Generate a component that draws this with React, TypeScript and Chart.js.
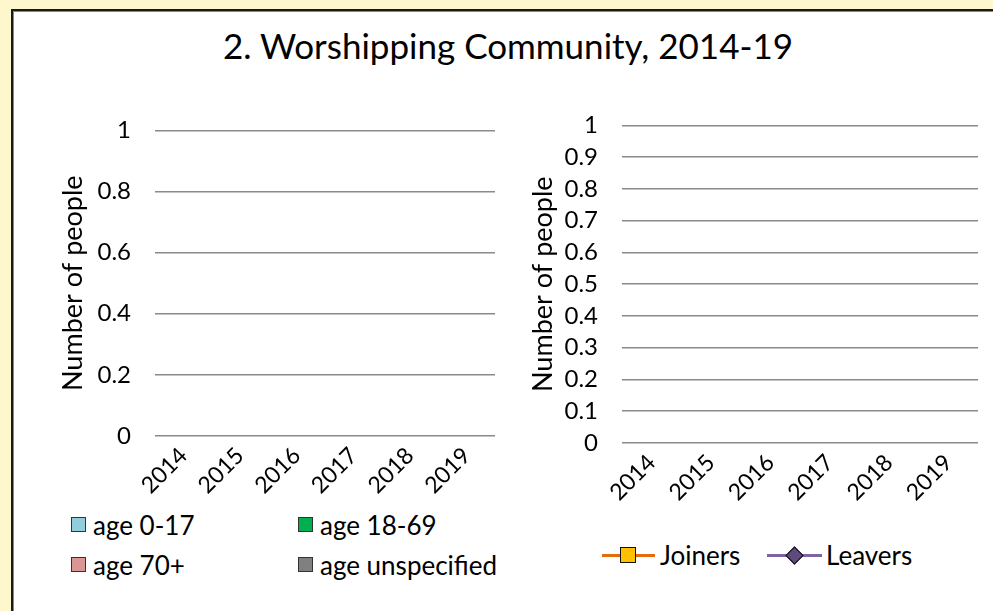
import React, { useEffect, useRef } from "react";
import { Chart, registerables } from "chart.js";

Chart.register(...registerables);

const TITLE = "2. Worshipping Community, 2014-19";
const YEARS = ["2014", "2015", "2016", "2017", "2018", "2019"];
const AGE_0_17: (number | null)[] = [null, null, null, null, null, null];
const AGE_18_69: (number | null)[] = [null, null, null, null, null, null];
const AGE_70_PLUS: (number | null)[] = [null, null, null, null, null, null];
const AGE_UNSPECIFIED: (number | null)[] = [null, null, null, null, null, null];
const JOINERS: (number | null)[] = [null, null, null, null, null, null];
const LEAVERS: (number | null)[] = [null, null, null, null, null, null];
const LEFT_Y_TICKS = ["0", "0.2", "0.4", "0.6", "0.8", "1"];
const RIGHT_Y_TICKS = ["0", "0.1", "0.2", "0.3", "0.4", "0.5", "0.6", "0.7", "0.8", "0.9", "1"];
const Y_TITLE = "Number of people";

const FONT = "Lato, 'Open Sans', sans-serif";
const GRID = "#8a8a8a";
const TICK_SIZE = 24;
const TICK_PAD = 24;
// top offset of chart area from canvas top caused by tick label half-height + padding
const TOP_OVERFLOW = Math.round((TICK_SIZE * 1.2) / 2 + TICK_PAD);

const AGE_LEGEND = [
  { label: "age 0-17", color: "#92CDDC" },
  { label: "age 18-69", color: "#00B050" },
  { label: "age 70+", color: "#DA9694" },
  { label: "age unspecified", color: "#808080" },
];

function yScale(ticks: string[], step: number, width: number) {
  return {
    min: 0,
    max: 1,
    border: { display: false },
    grid: { color: GRID, lineWidth: 1.5, drawTicks: false },
    ticks: {
      stepSize: step,
      autoSkip: false,
      padding: TICK_PAD,
      color: "#000",
      font: { family: FONT, size: TICK_SIZE },
      callback: (_v: any, i: number) => ticks[i],
    },
    title: {
      display: true,
      text: Y_TITLE,
      color: "#000",
      font: { family: FONT, size: 27 },
      padding: { top: 7, bottom: 4 },
    },
    afterFit: (s: any) => {
      s.width = width;
    },
  };
}

function xScale(height: number, offset: boolean) {
  return {
    offset,
    border: { display: false },
    grid: { display: false, drawTicks: false },
    ticks: {
      autoSkip: false,
      maxRotation: 45,
      minRotation: 45,
      padding: 6,
      color: "#000",
      font: { family: FONT, size: 23 },
    },
    afterFit: (s: any) => {
      s.height = height;
    },
  };
}

// Left chart: plot from x=155..495, y=130..436
const L_LEFT = 50;
const L_TOP = 130 - TOP_OVERFLOW;
const L_XH = 60;
const L_W = 495 - L_LEFT;
const L_H = 436 + L_XH - L_TOP;

// Right chart: plot from x=622..978, y=125..443
const R_LEFT = 520;
const R_TOP = 125 - TOP_OVERFLOW;
const R_XH = 72;
const R_W = 978 - R_LEFT;
const R_H = 443 + R_XH - R_TOP;

function LeftChart() {
  const ref = useRef<HTMLCanvasElement>(null);
  useEffect(() => {
    const chart = new Chart(ref.current!, {
      type: "bar",
      data: {
        labels: YEARS,
        datasets: [
          { label: AGE_LEGEND[0].label, data: AGE_0_17, backgroundColor: AGE_LEGEND[0].color },
          { label: AGE_LEGEND[1].label, data: AGE_18_69, backgroundColor: AGE_LEGEND[1].color },
          { label: AGE_LEGEND[2].label, data: AGE_70_PLUS, backgroundColor: AGE_LEGEND[2].color },
          { label: AGE_LEGEND[3].label, data: AGE_UNSPECIFIED, backgroundColor: AGE_LEGEND[3].color },
        ],
      },
      options: {
        responsive: false,
        animation: false,
        layout: { padding: 0, autoPadding: false },
        plugins: { legend: { display: false }, tooltip: { enabled: false } },
        scales: {
          x: { ...xScale(L_XH, true), stacked: true } as any,
          y: { ...yScale(LEFT_Y_TICKS, 0.2, 155 - L_LEFT), stacked: true } as any,
        },
      },
    });
    return () => chart.destroy();
  }, []);
  return (
    <canvas
      ref={ref}
      width={L_W}
      height={L_H}
      style={{ position: "absolute", left: L_LEFT, top: L_TOP, width: L_W, height: L_H }}
    />
  );
}

function RightChart() {
  const ref = useRef<HTMLCanvasElement>(null);
  useEffect(() => {
    const chart = new Chart(ref.current!, {
      type: "line",
      data: {
        labels: YEARS,
        datasets: [
          {
            label: "Joiners",
            data: JOINERS,
            borderColor: "#E46C0A",
            backgroundColor: "#FFC000",
            pointStyle: "rect",
            pointBorderColor: "#000",
            pointRadius: 7,
            borderWidth: 3,
          },
          {
            label: "Leavers",
            data: LEAVERS,
            borderColor: "#8064A2",
            backgroundColor: "#604A7B",
            pointStyle: "rectRot",
            pointBorderColor: "#000",
            pointRadius: 8,
            borderWidth: 3,
          },
        ],
      },
      options: {
        responsive: false,
        animation: false,
        layout: { padding: 0, autoPadding: false },
        plugins: { legend: { display: false }, tooltip: { enabled: false } },
        scales: {
          x: xScale(R_XH, true) as any,
          y: yScale(RIGHT_Y_TICKS, 0.1, 622 - R_LEFT) as any,
        },
      },
    });
    return () => chart.destroy();
  }, []);
  return (
    <canvas
      ref={ref}
      width={R_W}
      height={R_H}
      style={{ position: "absolute", left: R_LEFT, top: R_TOP, width: R_W, height: R_H }}
    />
  );
}

const textStyle: React.CSSProperties = {
  position: "absolute",
  fontFamily: FONT,
  fontSize: 26,
  color: "#000",
  lineHeight: "30px",
  whiteSpace: "nowrap",
};

export default function App() {
  const agePos = [
    { x: 71, y: 510 },
    { x: 298, y: 510 },
    { x: 71, y: 550 },
    { x: 298, y: 550 },
  ];
  return (
    <div
      style={{
        position: "absolute",
        left: 0,
        top: 0,
        width: 993,
        height: 611,
        overflow: "hidden",
        background: "#FEF6CD",
      }}
    >
      <div
        style={{
          position: "absolute",
          left: 11,
          top: 9,
          width: 1000,
          height: 700,
          background: "#fff",
          border: "2px solid #1a1a1a",
          boxShadow: "inset 1px 1px 0 #888",
        }}
      />
      <div
        style={{
          position: "absolute",
          left: 108,
          top: 23,
          width: 800,
          textAlign: "center",
          fontFamily: FONT,
          fontSize: 35,
          lineHeight: "44px",
          color: "#000",
        }}
      >
        {TITLE}
      </div>
      <LeftChart />
      <RightChart />
      {AGE_LEGEND.map((item, i) => (
        <React.Fragment key={item.label}>
          <div
            style={{
              position: "absolute",
              left: agePos[i].x,
              top: agePos[i].y + 7,
              width: 13,
              height: 13,
              background: item.color,
              border: "1.5px solid #333",
            }}
          />
          <div style={{ ...textStyle, left: agePos[i].x + 22, top: agePos[i].y }}>{item.label}</div>
        </React.Fragment>
      ))}
      {/* Joiners legend */}
      <div style={{ position: "absolute", left: 602, top: 554, width: 53, height: 3, background: "#E46C0A" }} />
      <div
        style={{
          position: "absolute",
          left: 620,
          top: 547,
          width: 14,
          height: 14,
          background: "#FFC000",
          border: "1.5px solid #111",
        }}
      />
      <div style={{ ...textStyle, left: 660, top: 540 }}>Joiners</div>
      {/* Leavers legend */}
      <div style={{ position: "absolute", left: 767, top: 554, width: 55, height: 3, background: "#8064A2" }} />
      <div
        style={{
          position: "absolute",
          left: 788,
          top: 549,
          width: 11,
          height: 11,
          background: "#604A7B",
          border: "1.5px solid #111",
          transform: "rotate(45deg)",
        }}
      />
      <div style={{ ...textStyle, left: 826, top: 540 }}>Leavers</div>
    </div>
  );
}
